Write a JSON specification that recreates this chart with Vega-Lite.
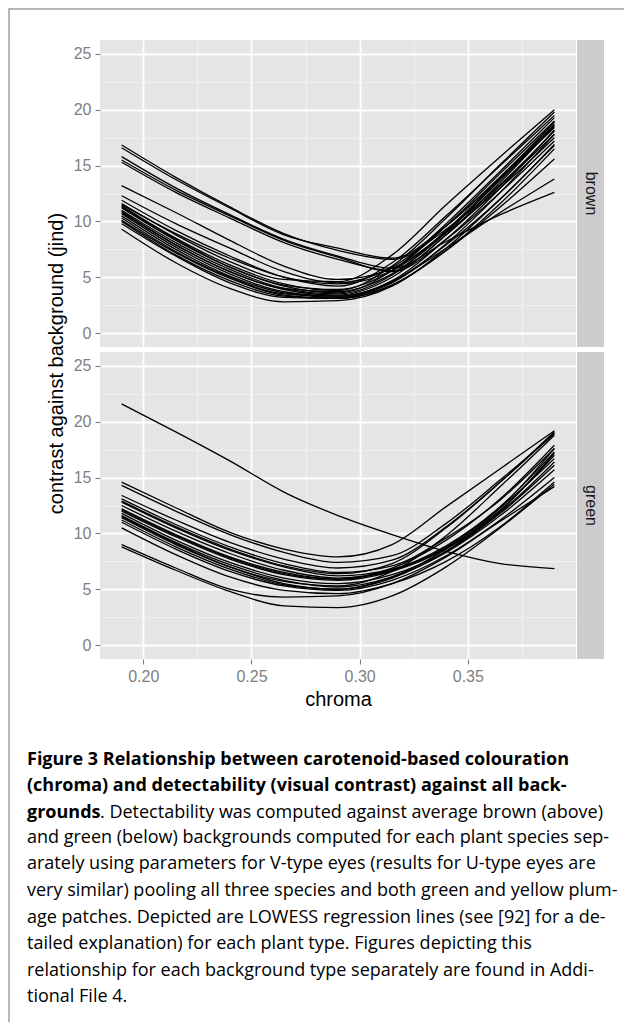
{
"$schema": "https://vega.github.io/schema/vega-lite/v6.json",
"background": "white",
"padding": {"left": 8, "top": 8, "right": 0, "bottom": 0},
"config": {"view": {"stroke": null}, "font": "Liberation Sans"},
"datasets": {"curves": [
{"bg":"brown","id":"U1","chroma":0.19,"contrast":16.85},{"bg":"brown","id":"U1","chroma":0.215,"contrast":13.95},{"bg":"brown","id":"U1","chroma":0.24,"contrast":11.3},{"bg":"brown","id":"U1","chroma":0.265,"contrast":8.9},{"bg":"brown","id":"U1","chroma":0.29,"contrast":7.4},{"bg":"brown","id":"U1","chroma":0.315,"contrast":6.6},{"bg":"brown","id":"U1","chroma":0.34,"contrast":9.3},{"bg":"brown","id":"U1","chroma":0.365,"contrast":13.3},{"bg":"brown","id":"U1","chroma":0.39,"contrast":18.1},
{"bg":"brown","id":"U2","chroma":0.19,"contrast":16.6},{"bg":"brown","id":"U2","chroma":0.215,"contrast":13.75},{"bg":"brown","id":"U2","chroma":0.24,"contrast":11.2},{"bg":"brown","id":"U2","chroma":0.265,"contrast":8.8},{"bg":"brown","id":"U2","chroma":0.29,"contrast":7.6},{"bg":"brown","id":"U2","chroma":0.315,"contrast":6.7},{"bg":"brown","id":"U2","chroma":0.34,"contrast":9.6},{"bg":"brown","id":"U2","chroma":0.365,"contrast":14.0},{"bg":"brown","id":"U2","chroma":0.39,"contrast":18.9},
{"bg":"brown","id":"U3","chroma":0.19,"contrast":15.8},{"bg":"brown","id":"U3","chroma":0.215,"contrast":13.0},{"bg":"brown","id":"U3","chroma":0.24,"contrast":10.6},{"bg":"brown","id":"U3","chroma":0.265,"contrast":8.4},{"bg":"brown","id":"U3","chroma":0.29,"contrast":6.9},{"bg":"brown","id":"U3","chroma":0.315,"contrast":5.8},{"bg":"brown","id":"U3","chroma":0.34,"contrast":8.2},{"bg":"brown","id":"U3","chroma":0.365,"contrast":10.6},{"bg":"brown","id":"U3","chroma":0.39,"contrast":12.6},
{"bg":"brown","id":"U4","chroma":0.19,"contrast":15.5},{"bg":"brown","id":"U4","chroma":0.215,"contrast":12.8},{"bg":"brown","id":"U4","chroma":0.24,"contrast":10.5},{"bg":"brown","id":"U4","chroma":0.265,"contrast":8.3},{"bg":"brown","id":"U4","chroma":0.29,"contrast":6.8},{"bg":"brown","id":"U4","chroma":0.315,"contrast":5.5},{"bg":"brown","id":"U4","chroma":0.34,"contrast":8.4},{"bg":"brown","id":"U4","chroma":0.365,"contrast":12.6},{"bg":"brown","id":"U4","chroma":0.39,"contrast":17.2},
{"bg":"brown","id":"U5","chroma":0.19,"contrast":15.3},{"bg":"brown","id":"U5","chroma":0.215,"contrast":12.6},{"bg":"brown","id":"U5","chroma":0.24,"contrast":10.3},{"bg":"brown","id":"U5","chroma":0.265,"contrast":8.1},{"bg":"brown","id":"U5","chroma":0.29,"contrast":6.6},{"bg":"brown","id":"U5","chroma":0.315,"contrast":5.6},{"bg":"brown","id":"U5","chroma":0.34,"contrast":8.8},{"bg":"brown","id":"U5","chroma":0.365,"contrast":13.2},{"bg":"brown","id":"U5","chroma":0.39,"contrast":17.8},
{"bg":"brown","id":"L1","chroma":0.19,"contrast":13.2},{"bg":"brown","id":"L1","chroma":0.215,"contrast":10.8},{"bg":"brown","id":"L1","chroma":0.24,"contrast":8.3},{"bg":"brown","id":"L1","chroma":0.265,"contrast":6.0},{"bg":"brown","id":"L1","chroma":0.29,"contrast":4.8},{"bg":"brown","id":"L1","chroma":0.315,"contrast":5.8},{"bg":"brown","id":"L1","chroma":0.34,"contrast":9.0},{"bg":"brown","id":"L1","chroma":0.365,"contrast":13.0},{"bg":"brown","id":"L1","chroma":0.39,"contrast":17.5},
{"bg":"brown","id":"L2","chroma":0.19,"contrast":12.3},{"bg":"brown","id":"L2","chroma":0.215,"contrast":9.8},{"bg":"brown","id":"L2","chroma":0.24,"contrast":7.6},{"bg":"brown","id":"L2","chroma":0.265,"contrast":5.5},{"bg":"brown","id":"L2","chroma":0.29,"contrast":4.5},{"bg":"brown","id":"L2","chroma":0.315,"contrast":5.9},{"bg":"brown","id":"L2","chroma":0.34,"contrast":9.6},{"bg":"brown","id":"L2","chroma":0.365,"contrast":13.9},{"bg":"brown","id":"L2","chroma":0.39,"contrast":18.4},
{"bg":"brown","id":"L3","chroma":0.19,"contrast":11.9},{"bg":"brown","id":"L3","chroma":0.215,"contrast":9.2},{"bg":"brown","id":"L3","chroma":0.24,"contrast":6.9},{"bg":"brown","id":"L3","chroma":0.265,"contrast":5.0},{"bg":"brown","id":"L3","chroma":0.29,"contrast":4.2},{"bg":"brown","id":"L3","chroma":0.315,"contrast":6.3},{"bg":"brown","id":"L3","chroma":0.34,"contrast":10.5},{"bg":"brown","id":"L3","chroma":0.365,"contrast":15.0},{"bg":"brown","id":"L3","chroma":0.39,"contrast":19.5},
{"bg":"brown","id":"L4","chroma":0.19,"contrast":11.6},{"bg":"brown","id":"L4","chroma":0.215,"contrast":8.8},{"bg":"brown","id":"L4","chroma":0.24,"contrast":6.4},{"bg":"brown","id":"L4","chroma":0.265,"contrast":4.8},{"bg":"brown","id":"L4","chroma":0.29,"contrast":4.6},{"bg":"brown","id":"L4","chroma":0.315,"contrast":7.0},{"bg":"brown","id":"L4","chroma":0.34,"contrast":11.5},{"bg":"brown","id":"L4","chroma":0.365,"contrast":15.8},{"bg":"brown","id":"L4","chroma":0.39,"contrast":20.0},
{"bg":"brown","id":"L5","chroma":0.19,"contrast":11.4},{"bg":"brown","id":"L5","chroma":0.215,"contrast":8.5},{"bg":"brown","id":"L5","chroma":0.24,"contrast":6.1},{"bg":"brown","id":"L5","chroma":0.265,"contrast":4.4},{"bg":"brown","id":"L5","chroma":0.29,"contrast":3.8},{"bg":"brown","id":"L5","chroma":0.315,"contrast":6.0},{"bg":"brown","id":"L5","chroma":0.34,"contrast":10.3},{"bg":"brown","id":"L5","chroma":0.365,"contrast":15.1},{"bg":"brown","id":"L5","chroma":0.39,"contrast":19.8},
{"bg":"brown","id":"L6","chroma":0.19,"contrast":11.2},{"bg":"brown","id":"L6","chroma":0.215,"contrast":8.3},{"bg":"brown","id":"L6","chroma":0.24,"contrast":5.9},{"bg":"brown","id":"L6","chroma":0.265,"contrast":4.2},{"bg":"brown","id":"L6","chroma":0.29,"contrast":3.6},{"bg":"brown","id":"L6","chroma":0.315,"contrast":5.6},{"bg":"brown","id":"L6","chroma":0.34,"contrast":9.8},{"bg":"brown","id":"L6","chroma":0.365,"contrast":14.5},{"bg":"brown","id":"L6","chroma":0.39,"contrast":19.3},
{"bg":"brown","id":"L7","chroma":0.19,"contrast":11.0},{"bg":"brown","id":"L7","chroma":0.215,"contrast":8.1},{"bg":"brown","id":"L7","chroma":0.24,"contrast":5.7},{"bg":"brown","id":"L7","chroma":0.265,"contrast":4.0},{"bg":"brown","id":"L7","chroma":0.29,"contrast":3.5},{"bg":"brown","id":"L7","chroma":0.315,"contrast":5.2},{"bg":"brown","id":"L7","chroma":0.34,"contrast":9.2},{"bg":"brown","id":"L7","chroma":0.365,"contrast":13.9},{"bg":"brown","id":"L7","chroma":0.39,"contrast":18.9},
{"bg":"brown","id":"L8","chroma":0.19,"contrast":10.9},{"bg":"brown","id":"L8","chroma":0.215,"contrast":7.9},{"bg":"brown","id":"L8","chroma":0.24,"contrast":5.5},{"bg":"brown","id":"L8","chroma":0.265,"contrast":3.9},{"bg":"brown","id":"L8","chroma":0.29,"contrast":3.4},{"bg":"brown","id":"L8","chroma":0.315,"contrast":5.0},{"bg":"brown","id":"L8","chroma":0.34,"contrast":8.8},{"bg":"brown","id":"L8","chroma":0.365,"contrast":13.5},{"bg":"brown","id":"L8","chroma":0.39,"contrast":18.6},
{"bg":"brown","id":"L9","chroma":0.19,"contrast":10.7},{"bg":"brown","id":"L9","chroma":0.215,"contrast":7.7},{"bg":"brown","id":"L9","chroma":0.24,"contrast":5.3},{"bg":"brown","id":"L9","chroma":0.265,"contrast":3.7},{"bg":"brown","id":"L9","chroma":0.29,"contrast":3.3},{"bg":"brown","id":"L9","chroma":0.315,"contrast":4.7},{"bg":"brown","id":"L9","chroma":0.34,"contrast":8.4},{"bg":"brown","id":"L9","chroma":0.365,"contrast":13.0},{"bg":"brown","id":"L9","chroma":0.39,"contrast":18.2},
{"bg":"brown","id":"L10","chroma":0.19,"contrast":10.5},{"bg":"brown","id":"L10","chroma":0.215,"contrast":7.5},{"bg":"brown","id":"L10","chroma":0.24,"contrast":5.1},{"bg":"brown","id":"L10","chroma":0.265,"contrast":3.6},{"bg":"brown","id":"L10","chroma":0.29,"contrast":3.2},{"bg":"brown","id":"L10","chroma":0.315,"contrast":4.5},{"bg":"brown","id":"L10","chroma":0.34,"contrast":8.0},{"bg":"brown","id":"L10","chroma":0.365,"contrast":12.6},{"bg":"brown","id":"L10","chroma":0.39,"contrast":17.8},
{"bg":"brown","id":"L11","chroma":0.19,"contrast":10.3},{"bg":"brown","id":"L11","chroma":0.215,"contrast":7.3},{"bg":"brown","id":"L11","chroma":0.24,"contrast":5.0},{"bg":"brown","id":"L11","chroma":0.265,"contrast":3.5},{"bg":"brown","id":"L11","chroma":0.29,"contrast":3.3},{"bg":"brown","id":"L11","chroma":0.315,"contrast":4.6},{"bg":"brown","id":"L11","chroma":0.34,"contrast":7.9},{"bg":"brown","id":"L11","chroma":0.365,"contrast":12.0},{"bg":"brown","id":"L11","chroma":0.39,"contrast":16.9},
{"bg":"brown","id":"L12","chroma":0.19,"contrast":10.1},{"bg":"brown","id":"L12","chroma":0.215,"contrast":7.2},{"bg":"brown","id":"L12","chroma":0.24,"contrast":4.9},{"bg":"brown","id":"L12","chroma":0.265,"contrast":3.4},{"bg":"brown","id":"L12","chroma":0.29,"contrast":3.1},{"bg":"brown","id":"L12","chroma":0.315,"contrast":4.3},{"bg":"brown","id":"L12","chroma":0.34,"contrast":7.4},{"bg":"brown","id":"L12","chroma":0.365,"contrast":11.6},{"bg":"brown","id":"L12","chroma":0.39,"contrast":16.5},
{"bg":"brown","id":"L13","chroma":0.19,"contrast":10.0},{"bg":"brown","id":"L13","chroma":0.215,"contrast":7.0},{"bg":"brown","id":"L13","chroma":0.24,"contrast":4.7},{"bg":"brown","id":"L13","chroma":0.265,"contrast":3.3},{"bg":"brown","id":"L13","chroma":0.29,"contrast":3.1},{"bg":"brown","id":"L13","chroma":0.315,"contrast":4.3},{"bg":"brown","id":"L13","chroma":0.34,"contrast":7.4},{"bg":"brown","id":"L13","chroma":0.365,"contrast":11.3},{"bg":"brown","id":"L13","chroma":0.39,"contrast":15.6},
{"bg":"brown","id":"L14","chroma":0.19,"contrast":9.8},{"bg":"brown","id":"L14","chroma":0.215,"contrast":6.9},{"bg":"brown","id":"L14","chroma":0.24,"contrast":4.5},{"bg":"brown","id":"L14","chroma":0.265,"contrast":3.2},{"bg":"brown","id":"L14","chroma":0.29,"contrast":3.1},{"bg":"brown","id":"L14","chroma":0.315,"contrast":4.6},{"bg":"brown","id":"L14","chroma":0.34,"contrast":7.6},{"bg":"brown","id":"L14","chroma":0.365,"contrast":10.8},{"bg":"brown","id":"L14","chroma":0.39,"contrast":13.8},
{"bg":"brown","id":"L15","chroma":0.19,"contrast":9.3},{"bg":"brown","id":"L15","chroma":0.215,"contrast":6.3},{"bg":"brown","id":"L15","chroma":0.24,"contrast":4.0},{"bg":"brown","id":"L15","chroma":0.265,"contrast":2.8},{"bg":"brown","id":"L15","chroma":0.29,"contrast":2.9},{"bg":"brown","id":"L15","chroma":0.315,"contrast":4.2},{"bg":"brown","id":"L15","chroma":0.34,"contrast":7.6},{"bg":"brown","id":"L15","chroma":0.365,"contrast":12.0},{"bg":"brown","id":"L15","chroma":0.39,"contrast":16.8},
{"bg":"brown","id":"L16","chroma":0.19,"contrast":11.3},{"bg":"brown","id":"L16","chroma":0.215,"contrast":8.4},{"bg":"brown","id":"L16","chroma":0.24,"contrast":5.9},{"bg":"brown","id":"L16","chroma":0.265,"contrast":4.3},{"bg":"brown","id":"L16","chroma":0.29,"contrast":3.9},{"bg":"brown","id":"L16","chroma":0.315,"contrast":5.6},{"bg":"brown","id":"L16","chroma":0.34,"contrast":9.6},{"bg":"brown","id":"L16","chroma":0.365,"contrast":14.3},{"bg":"brown","id":"L16","chroma":0.39,"contrast":19.0},
{"bg":"brown","id":"L17","chroma":0.19,"contrast":10.8},{"bg":"brown","id":"L17","chroma":0.215,"contrast":7.9},{"bg":"brown","id":"L17","chroma":0.24,"contrast":5.5},{"bg":"brown","id":"L17","chroma":0.265,"contrast":4.0},{"bg":"brown","id":"L17","chroma":0.29,"contrast":3.7},{"bg":"brown","id":"L17","chroma":0.315,"contrast":5.3},{"bg":"brown","id":"L17","chroma":0.34,"contrast":9.0},{"bg":"brown","id":"L17","chroma":0.365,"contrast":13.8},{"bg":"brown","id":"L17","chroma":0.39,"contrast":18.7},
{"bg":"brown","id":"L18","chroma":0.19,"contrast":11.5},{"bg":"brown","id":"L18","chroma":0.215,"contrast":8.9},{"bg":"brown","id":"L18","chroma":0.24,"contrast":6.7},{"bg":"brown","id":"L18","chroma":0.265,"contrast":5.0},{"bg":"brown","id":"L18","chroma":0.29,"contrast":4.4},{"bg":"brown","id":"L18","chroma":0.315,"contrast":5.6},{"bg":"brown","id":"L18","chroma":0.34,"contrast":9.1},{"bg":"brown","id":"L18","chroma":0.365,"contrast":13.7},{"bg":"brown","id":"L18","chroma":0.39,"contrast":18.5},
{"bg":"green","id":"G0","chroma":0.19,"contrast":21.6},{"bg":"green","id":"G0","chroma":0.215,"contrast":19.1},{"bg":"green","id":"G0","chroma":0.24,"contrast":16.5},{"bg":"green","id":"G0","chroma":0.265,"contrast":13.7},{"bg":"green","id":"G0","chroma":0.29,"contrast":11.6},{"bg":"green","id":"G0","chroma":0.315,"contrast":9.9},{"bg":"green","id":"G0","chroma":0.34,"contrast":8.4},{"bg":"green","id":"G0","chroma":0.365,"contrast":7.3},{"bg":"green","id":"G0","chroma":0.39,"contrast":6.85},
{"bg":"green","id":"G1","chroma":0.19,"contrast":14.6},{"bg":"green","id":"G1","chroma":0.215,"contrast":12.3},{"bg":"green","id":"G1","chroma":0.24,"contrast":10.1},{"bg":"green","id":"G1","chroma":0.265,"contrast":8.6},{"bg":"green","id":"G1","chroma":0.29,"contrast":7.9},{"bg":"green","id":"G1","chroma":0.315,"contrast":9.0},{"bg":"green","id":"G1","chroma":0.34,"contrast":12.4},{"bg":"green","id":"G1","chroma":0.365,"contrast":15.8},{"bg":"green","id":"G1","chroma":0.39,"contrast":19.2},
{"bg":"green","id":"G2","chroma":0.19,"contrast":14.3},{"bg":"green","id":"G2","chroma":0.215,"contrast":12.0},{"bg":"green","id":"G2","chroma":0.24,"contrast":9.9},{"bg":"green","id":"G2","chroma":0.265,"contrast":8.3},{"bg":"green","id":"G2","chroma":0.29,"contrast":7.4},{"bg":"green","id":"G2","chroma":0.315,"contrast":8.0},{"bg":"green","id":"G2","chroma":0.34,"contrast":10.9},{"bg":"green","id":"G2","chroma":0.365,"contrast":14.8},{"bg":"green","id":"G2","chroma":0.39,"contrast":18.9},
{"bg":"green","id":"G3","chroma":0.19,"contrast":13.4},{"bg":"green","id":"G3","chroma":0.215,"contrast":11.2},{"bg":"green","id":"G3","chroma":0.24,"contrast":9.2},{"bg":"green","id":"G3","chroma":0.265,"contrast":7.7},{"bg":"green","id":"G3","chroma":0.29,"contrast":6.9},{"bg":"green","id":"G3","chroma":0.315,"contrast":7.6},{"bg":"green","id":"G3","chroma":0.34,"contrast":10.6},{"bg":"green","id":"G3","chroma":0.365,"contrast":14.6},{"bg":"green","id":"G3","chroma":0.39,"contrast":19.0},
{"bg":"green","id":"G4","chroma":0.19,"contrast":13.1},{"bg":"green","id":"G4","chroma":0.215,"contrast":10.8},{"bg":"green","id":"G4","chroma":0.24,"contrast":8.8},{"bg":"green","id":"G4","chroma":0.265,"contrast":7.3},{"bg":"green","id":"G4","chroma":0.29,"contrast":6.5},{"bg":"green","id":"G4","chroma":0.315,"contrast":7.1},{"bg":"green","id":"G4","chroma":0.34,"contrast":9.6},{"bg":"green","id":"G4","chroma":0.365,"contrast":13.0},{"bg":"green","id":"G4","chroma":0.39,"contrast":17.6},
{"bg":"green","id":"G5","chroma":0.19,"contrast":12.9},{"bg":"green","id":"G5","chroma":0.215,"contrast":10.6},{"bg":"green","id":"G5","chroma":0.24,"contrast":8.6},{"bg":"green","id":"G5","chroma":0.265,"contrast":7.1},{"bg":"green","id":"G5","chroma":0.29,"contrast":6.4},{"bg":"green","id":"G5","chroma":0.315,"contrast":7.3},{"bg":"green","id":"G5","chroma":0.34,"contrast":10.5},{"bg":"green","id":"G5","chroma":0.365,"contrast":14.6},{"bg":"green","id":"G5","chroma":0.39,"contrast":19.1},
{"bg":"green","id":"G6","chroma":0.19,"contrast":12.8},{"bg":"green","id":"G6","chroma":0.215,"contrast":10.5},{"bg":"green","id":"G6","chroma":0.24,"contrast":8.5},{"bg":"green","id":"G6","chroma":0.265,"contrast":7.0},{"bg":"green","id":"G6","chroma":0.29,"contrast":6.2},{"bg":"green","id":"G6","chroma":0.315,"contrast":6.8},{"bg":"green","id":"G6","chroma":0.34,"contrast":8.9},{"bg":"green","id":"G6","chroma":0.365,"contrast":12.4},{"bg":"green","id":"G6","chroma":0.39,"contrast":17.3},
{"bg":"green","id":"G7","chroma":0.19,"contrast":12.5},{"bg":"green","id":"G7","chroma":0.215,"contrast":10.2},{"bg":"green","id":"G7","chroma":0.24,"contrast":8.2},{"bg":"green","id":"G7","chroma":0.265,"contrast":6.7},{"bg":"green","id":"G7","chroma":0.29,"contrast":6.0},{"bg":"green","id":"G7","chroma":0.315,"contrast":6.7},{"bg":"green","id":"G7","chroma":0.34,"contrast":8.7},{"bg":"green","id":"G7","chroma":0.365,"contrast":12.1},{"bg":"green","id":"G7","chroma":0.39,"contrast":17.0},
{"bg":"green","id":"G8","chroma":0.19,"contrast":12.2},{"bg":"green","id":"G8","chroma":0.215,"contrast":9.9},{"bg":"green","id":"G8","chroma":0.24,"contrast":7.9},{"bg":"green","id":"G8","chroma":0.265,"contrast":6.5},{"bg":"green","id":"G8","chroma":0.29,"contrast":5.9},{"bg":"green","id":"G8","chroma":0.315,"contrast":6.7},{"bg":"green","id":"G8","chroma":0.34,"contrast":8.8},{"bg":"green","id":"G8","chroma":0.365,"contrast":12.3},{"bg":"green","id":"G8","chroma":0.39,"contrast":16.7},
{"bg":"green","id":"G9","chroma":0.19,"contrast":12.0},{"bg":"green","id":"G9","chroma":0.215,"contrast":9.7},{"bg":"green","id":"G9","chroma":0.24,"contrast":7.7},{"bg":"green","id":"G9","chroma":0.265,"contrast":6.3},{"bg":"green","id":"G9","chroma":0.29,"contrast":5.8},{"bg":"green","id":"G9","chroma":0.315,"contrast":6.6},{"bg":"green","id":"G9","chroma":0.34,"contrast":8.6},{"bg":"green","id":"G9","chroma":0.365,"contrast":11.9},{"bg":"green","id":"G9","chroma":0.39,"contrast":16.4},
{"bg":"green","id":"G10","chroma":0.19,"contrast":11.8},{"bg":"green","id":"G10","chroma":0.215,"contrast":9.4},{"bg":"green","id":"G10","chroma":0.24,"contrast":7.4},{"bg":"green","id":"G10","chroma":0.265,"contrast":6.0},{"bg":"green","id":"G10","chroma":0.29,"contrast":5.5},{"bg":"green","id":"G10","chroma":0.315,"contrast":6.3},{"bg":"green","id":"G10","chroma":0.34,"contrast":8.4},{"bg":"green","id":"G10","chroma":0.365,"contrast":11.8},{"bg":"green","id":"G10","chroma":0.39,"contrast":16.1},
{"bg":"green","id":"G11","chroma":0.19,"contrast":11.6},{"bg":"green","id":"G11","chroma":0.215,"contrast":9.2},{"bg":"green","id":"G11","chroma":0.24,"contrast":7.2},{"bg":"green","id":"G11","chroma":0.265,"contrast":5.8},{"bg":"green","id":"G11","chroma":0.29,"contrast":5.2},{"bg":"green","id":"G11","chroma":0.315,"contrast":6.1},{"bg":"green","id":"G11","chroma":0.34,"contrast":8.3},{"bg":"green","id":"G11","chroma":0.365,"contrast":11.6},{"bg":"green","id":"G11","chroma":0.39,"contrast":15.7},
{"bg":"green","id":"G12","chroma":0.19,"contrast":11.5},{"bg":"green","id":"G12","chroma":0.215,"contrast":9.1},{"bg":"green","id":"G12","chroma":0.24,"contrast":7.0},{"bg":"green","id":"G12","chroma":0.265,"contrast":5.7},{"bg":"green","id":"G12","chroma":0.29,"contrast":5.3},{"bg":"green","id":"G12","chroma":0.315,"contrast":6.6},{"bg":"green","id":"G12","chroma":0.34,"contrast":9.8},{"bg":"green","id":"G12","chroma":0.365,"contrast":14.2},{"bg":"green","id":"G12","chroma":0.39,"contrast":18.8},
{"bg":"green","id":"G13","chroma":0.19,"contrast":11.4},{"bg":"green","id":"G13","chroma":0.215,"contrast":9.0},{"bg":"green","id":"G13","chroma":0.24,"contrast":7.0},{"bg":"green","id":"G13","chroma":0.265,"contrast":5.5},{"bg":"green","id":"G13","chroma":0.29,"contrast":5.0},{"bg":"green","id":"G13","chroma":0.315,"contrast":6.0},{"bg":"green","id":"G13","chroma":0.34,"contrast":8.4},{"bg":"green","id":"G13","chroma":0.365,"contrast":12.0},{"bg":"green","id":"G13","chroma":0.39,"contrast":17.2},
{"bg":"green","id":"G14","chroma":0.19,"contrast":11.2},{"bg":"green","id":"G14","chroma":0.215,"contrast":8.8},{"bg":"green","id":"G14","chroma":0.24,"contrast":6.8},{"bg":"green","id":"G14","chroma":0.265,"contrast":5.4},{"bg":"green","id":"G14","chroma":0.29,"contrast":5.0},{"bg":"green","id":"G14","chroma":0.315,"contrast":6.1},{"bg":"green","id":"G14","chroma":0.34,"contrast":8.6},{"bg":"green","id":"G14","chroma":0.365,"contrast":12.3},{"bg":"green","id":"G14","chroma":0.39,"contrast":17.6},
{"bg":"green","id":"G15","chroma":0.19,"contrast":11.0},{"bg":"green","id":"G15","chroma":0.215,"contrast":8.6},{"bg":"green","id":"G15","chroma":0.24,"contrast":6.6},{"bg":"green","id":"G15","chroma":0.265,"contrast":5.3},{"bg":"green","id":"G15","chroma":0.29,"contrast":4.9},{"bg":"green","id":"G15","chroma":0.315,"contrast":5.8},{"bg":"green","id":"G15","chroma":0.34,"contrast":8.0},{"bg":"green","id":"G15","chroma":0.365,"contrast":11.2},{"bg":"green","id":"G15","chroma":0.39,"contrast":15.0},
{"bg":"green","id":"G16","chroma":0.19,"contrast":10.5},{"bg":"green","id":"G16","chroma":0.215,"contrast":8.1},{"bg":"green","id":"G16","chroma":0.24,"contrast":6.1},{"bg":"green","id":"G16","chroma":0.265,"contrast":4.9},{"bg":"green","id":"G16","chroma":0.29,"contrast":4.6},{"bg":"green","id":"G16","chroma":0.315,"contrast":5.5},{"bg":"green","id":"G16","chroma":0.34,"contrast":7.5},{"bg":"green","id":"G16","chroma":0.365,"contrast":10.6},{"bg":"green","id":"G16","chroma":0.39,"contrast":14.6},
{"bg":"green","id":"G17","chroma":0.19,"contrast":9.0},{"bg":"green","id":"G17","chroma":0.215,"contrast":6.9},{"bg":"green","id":"G17","chroma":0.24,"contrast":5.0},{"bg":"green","id":"G17","chroma":0.265,"contrast":4.3},{"bg":"green","id":"G17","chroma":0.29,"contrast":4.4},{"bg":"green","id":"G17","chroma":0.315,"contrast":5.5},{"bg":"green","id":"G17","chroma":0.34,"contrast":7.9},{"bg":"green","id":"G17","chroma":0.365,"contrast":11.1},{"bg":"green","id":"G17","chroma":0.39,"contrast":14.2},
{"bg":"green","id":"G18","chroma":0.19,"contrast":8.8},{"bg":"green","id":"G18","chroma":0.215,"contrast":6.7},{"bg":"green","id":"G18","chroma":0.24,"contrast":4.8},{"bg":"green","id":"G18","chroma":0.265,"contrast":3.5},{"bg":"green","id":"G18","chroma":0.29,"contrast":3.35},{"bg":"green","id":"G18","chroma":0.315,"contrast":4.4},{"bg":"green","id":"G18","chroma":0.34,"contrast":7.0},{"bg":"green","id":"G18","chroma":0.365,"contrast":10.5},{"bg":"green","id":"G18","chroma":0.39,"contrast":14.4},
{"bg":"green","id":"G19","chroma":0.19,"contrast":12.1},{"bg":"green","id":"G19","chroma":0.215,"contrast":9.8},{"bg":"green","id":"G19","chroma":0.24,"contrast":7.8},{"bg":"green","id":"G19","chroma":0.265,"contrast":6.4},{"bg":"green","id":"G19","chroma":0.29,"contrast":5.9},{"bg":"green","id":"G19","chroma":0.315,"contrast":6.9},{"bg":"green","id":"G19","chroma":0.34,"contrast":9.4},{"bg":"green","id":"G19","chroma":0.365,"contrast":13.1},{"bg":"green","id":"G19","chroma":0.39,"contrast":17.9}
]},
"columns": 5,
"spacing": 0,
"bounds": "flush",
"concat": [
 {"width": 91, "height": 31, "data": {"values": []}, "mark": "text", "view": {"stroke": "#a0a0a0", "strokeWidth": 1.5, "strokeDash": [91, 122, 31, 1]}},
 {"width": 476, "height": 31, "data": {"values": []}, "mark": "text", "view": {"stroke": "#a0a0a0", "strokeWidth": 1.5, "strokeDash": [476, 1100]}},
 {"width": 1, "height": 31, "data": {"values": []}, "mark": "text", "view": {"stroke": "#a0a0a0", "strokeWidth": 1.5, "strokeDash": [1, 100]}},
 {"width": 27, "height": 31, "data": {"values": []}, "mark": "text", "view": {"stroke": "#a0a0a0", "strokeWidth": 1.5, "strokeDash": [27, 200]}},
 {"width": 21, "height": 31, "data": {"values": []}, "mark": "text", "view": {"stroke": "#a0a0a0", "strokeWidth": 1.5, "strokeDash": [21, 200]}},

 {"width": 91, "height": 307, "data": {"values": []}, "mark": "text", "view": {"stroke": "#a0a0a0", "strokeWidth": 1.5, "strokeDash": [0, 489, 307, 1]}},
 {"width": 476, "height": 307, "view": {"fill": "#e5e5e5", "stroke": null},
  "data": {"name": "curves"}, "transform": [{"filter": "datum.bg === 'brown'"}],
  "mark": {"type": "line", "color": "#000000", "strokeWidth": 1.3, "interpolate": "monotone", "clip": true},
  "encoding": {
    "x": {"field": "chroma", "type": "quantitative", "scale": {"domain": [0.18, 0.4], "nice": false, "zero": false},
          "axis": {"title": null, "values": [0.2, 0.225, 0.25, 0.275, 0.3, 0.325, 0.35, 0.375], "labels": false, "ticks": false, "domain": false, "grid": true,
                   "gridColor": {"condition": {"test": "abs(datum.value*20 - round(datum.value*20)) > 0.1", "value": "#f2f2f2"}, "value": "#ffffff"},
                   "gridWidth": {"condition": {"test": "abs(datum.value*20 - round(datum.value*20)) > 0.1", "value": 0.8}, "value": 1.8}}},
    "y": {"field": "contrast", "type": "quantitative", "scale": {"domain": [-1.25, 26.25], "nice": false, "zero": false},
          "axis": {"title": null, "values": [0, 2.5, 5, 7.5, 10, 12.5, 15, 17.5, 20, 22.5, 25], "domain": false, "grid": true,
                   "gridColor": {"condition": {"test": "datum.value % 5 !== 0", "value": "#f2f2f2"}, "value": "#ffffff"},
                   "gridWidth": {"condition": {"test": "datum.value % 5 !== 0", "value": 0.8}, "value": 1.8},
                   "tickColor": {"condition": {"test": "datum.value % 5 !== 0", "value": "transparent"}, "value": "#7f7f7f"},
                   "tickSize": 5, "tickWidth": 1.1, "labelPadding": 4, "labelFontSize": 16, "labelColor": "#7f7f7f", "labelFont": "Liberation Sans", "labelOverlap": false,
                   "labelExpr": "datum.value % 5 === 0 ? datum.label : ''"}},
    "detail": {"field": "id", "type": "nominal"}
  }},
 {"width": 1, "height": 1, "data": {"values": []}, "mark": "text"},
 {"width": 27, "height": 307, "view": {"fill": "#cccccc", "stroke": null}, "data": {"values": [{"panel": "brown"}]},
  "mark": {"type": "text", "angle": 90, "fontSize": 16, "font": "Liberation Sans", "color": "#1a1a1a", "align": "center", "baseline": "middle"},
  "encoding": {"text": {"field": "panel", "type": "nominal"}}},
 {"width": 1, "height": 1, "data": {"values": []}, "mark": "text"},

 {"width": 91, "height": 5, "data": {"values": []}, "mark": "text", "view": {"stroke": "#a0a0a0", "strokeWidth": 1.5, "strokeDash": [0, 187, 5, 1]}},
 {"width": 1, "height": 1, "data": {"values": []}, "mark": "text"},
 {"width": 1, "height": 1, "data": {"values": []}, "mark": "text"},
 {"width": 1, "height": 1, "data": {"values": []}, "mark": "text"},
 {"width": 1, "height": 1, "data": {"values": []}, "mark": "text"},

 {"width": 91, "height": 307, "data": {"values": []}, "mark": "text", "view": {"stroke": "#a0a0a0", "strokeWidth": 1.5, "strokeDash": [0, 489, 307, 1]}},
 {"width": 476, "height": 307, "view": {"fill": "#e5e5e5", "stroke": null},
  "data": {"name": "curves"}, "transform": [{"filter": "datum.bg === 'green'"}],
  "mark": {"type": "line", "color": "#000000", "strokeWidth": 1.3, "interpolate": "monotone", "clip": true},
  "encoding": {
    "x": {"field": "chroma", "type": "quantitative", "scale": {"domain": [0.18, 0.4], "nice": false, "zero": false},
          "axis": {"title": "chroma", "values": [0.2, 0.225, 0.25, 0.275, 0.3, 0.325, 0.35, 0.375], "domain": false, "grid": true,
                   "gridColor": {"condition": {"test": "abs(datum.value*20 - round(datum.value*20)) > 0.1", "value": "#f2f2f2"}, "value": "#ffffff"},
                   "gridWidth": {"condition": {"test": "abs(datum.value*20 - round(datum.value*20)) > 0.1", "value": 0.8}, "value": 1.8},
                   "tickColor": {"condition": {"test": "abs(datum.value*20 - round(datum.value*20)) > 0.1", "value": "transparent"}, "value": "#7f7f7f"},
                   "tickSize": 5, "tickWidth": 1.1, "labelPadding": 4, "labelFontSize": 16, "labelColor": "#7f7f7f", "labelFont": "Liberation Sans", "labelOverlap": false, "labelFlush": false,
                   "labelExpr": "abs(datum.value*20 - round(datum.value*20)) > 0.1 ? '' : format(datum.value, '.2f')",
                   "titleFontSize": 20, "titleFontWeight": "normal", "titleColor": "#000000", "titleFont": "Liberation Sans", "titlePadding": 5}},
    "y": {"field": "contrast", "type": "quantitative", "scale": {"domain": [-1.25, 26.25], "nice": false, "zero": false},
          "axis": {"title": "contrast against background (jind)", "titleX": -37.3, "titleY": 11, "titleAngle": 270, "titleAlign": "center", "titleBaseline": "alphabetic",
                   "titleFontSize": 20, "titleFontWeight": "normal", "titleColor": "#000000", "titleFont": "Liberation Sans",
                   "values": [0, 2.5, 5, 7.5, 10, 12.5, 15, 17.5, 20, 22.5, 25], "domain": false, "grid": true,
                   "gridColor": {"condition": {"test": "datum.value % 5 !== 0", "value": "#f2f2f2"}, "value": "#ffffff"},
                   "gridWidth": {"condition": {"test": "datum.value % 5 !== 0", "value": 0.8}, "value": 1.8},
                   "tickColor": {"condition": {"test": "datum.value % 5 !== 0", "value": "transparent"}, "value": "#7f7f7f"},
                   "tickSize": 5, "tickWidth": 1.1, "labelPadding": 4, "labelFontSize": 16, "labelColor": "#7f7f7f", "labelFont": "Liberation Sans", "labelOverlap": false,
                   "labelExpr": "datum.value % 5 === 0 ? datum.label : ''"}},
    "detail": {"field": "id", "type": "nominal"}
  }},
 {"width": 1, "height": 1, "data": {"values": []}, "mark": "text"},
 {"width": 27, "height": 307, "view": {"fill": "#cccccc", "stroke": null}, "data": {"values": [{"panel": "green"}]},
  "mark": {"type": "text", "angle": 90, "fontSize": 16, "font": "Liberation Sans", "color": "#1a1a1a", "align": "center", "baseline": "middle"},
  "encoding": {"text": {"field": "panel", "type": "nominal"}}},
 {"width": 1, "height": 1, "data": {"values": []}, "mark": "text"},

 {"width": 91, "height": 364, "data": {"values": []}, "mark": "text", "view": {"stroke": "#a0a0a0", "strokeWidth": 1.5, "strokeDash": [0, 546, 364, 1]}},
 {"width": 476, "height": 1, "data": {"values": []}, "mark": "text",
  "title": {
    "text": ["Figure 3 Relationship between carotenoid-based colouration", "(chroma) and detectability (visual contrast) against all back-", "grounds"],
    "subtitle": ["and green (below) backgrounds computed for each plant species sep-", "arately using parameters for V-type eyes (results for U-type eyes are", "very similar) pooling all three species and both green and yellow plum-", "age patches. Depicted are LOWESS regression lines (see [92] for a de-", "tailed explanation) for each plant type. Figures depicting this", "relationship for each background type separately are found in Addi-", "tional File 4."],
    "orient": "bottom", "anchor": "start", "frame": "group", "offset": 90.5, "dx": -73, "baseline": "top",
    "font": "Open Sans", "fontSize": 18, "fontWeight": "bold", "color": "#000000", "lineHeight": 26.6,
    "subtitleFont": "Open Sans", "subtitleFontSize": 18, "subtitleFontWeight": "normal", "subtitleColor": "#000000", "subtitleLineHeight": 26.6, "subtitlePadding": 7.1
  }},
 {"width": 1, "height": 1, "data": {"values": []}, "mark": "text",
  "title": {
    "text": ". Detectability was computed against average brown (above)",
    "orient": "bottom", "anchor": "start", "frame": "group", "offset": 143.7, "dx": -476, "baseline": "top",
    "font": "Open Sans", "fontSize": 18, "fontWeight": "normal", "color": "#000000"
  }},
 {"width": 1, "height": 1, "data": {"values": []}, "mark": "text"},
 {"width": 1, "height": 1, "data": {"values": []}, "mark": "text"}
]
}
